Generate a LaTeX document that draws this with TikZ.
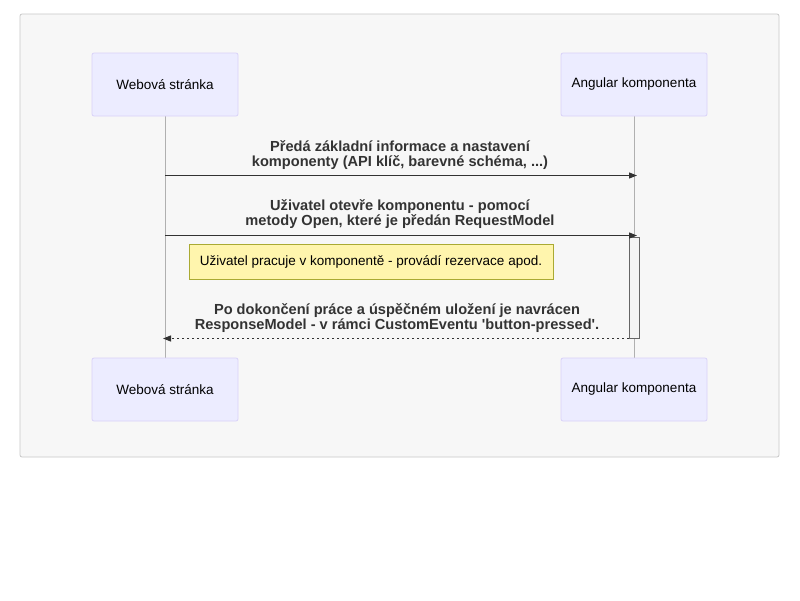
\documentclass[tikz,border=0pt]{standalone}
\usepackage{fontspec}
\setmainfont{Liberation Sans}[Ligatures=TeXOff]
\usetikzlibrary{arrows.meta}
\definecolor{bgfill}{HTML}{F7F7F7}
\definecolor{bgline}{HTML}{C8C8C8}
\definecolor{actfill}{HTML}{ECECFF}
\definecolor{actline}{HTML}{D9D2F8}
\definecolor{lifeline}{HTML}{B0B0B0}
\definecolor{msgline}{HTML}{333333}
\definecolor{notefill}{HTML}{FFF5AD}
\definecolor{noteline}{HTML}{AAAA33}
\definecolor{activfill}{HTML}{F4F4F4}
\definecolor{activline}{HTML}{666666}
\tikzset{
  actor/.style={draw=actline, fill=actfill, rounded corners=2pt, minimum width=146pt, minimum height=63pt, inner sep=0pt, font=\fontsize{13.5}{15}\selectfont, text=black, line width=0.8pt},
  msgtext/.style={font=\fontsize{14.6}{15}\selectfont\bfseries, text=msgline, align=center, inner sep=0pt},
  msg/.style={draw=msgline, line width=1.3pt, -{Triangle[length=8pt,width=6pt]}},
  life/.style={draw=lifeline, line width=0.8pt},
  notebox/.style={draw=noteline, fill=notefill, minimum width=364pt, minimum height=35pt, inner sep=0pt, font=\fontsize{13.5}{15}\selectfont, text=black, line width=0.8pt}
}
\begin{document}
\begin{tikzpicture}[x=1pt,y=-1pt]
\useasboundingbox (0,0) rectangle (800,600);
\fill[white] (0,0) rectangle (800,600);
\draw[bgline, fill=bgfill, rounded corners=2pt, line width=0.8pt] (20,14) rectangle (779,457);
% lifelines
\coordinate (lt) at (165,116);
\coordinate (lb) at (165,358);
\coordinate (rt) at (634,116);
\coordinate (rb) at (634,358);
\draw[life] (lt) -- (lb);
\draw[life] (rt) -- (rb);
% actors
\node[actor] (wt) at (165,84.5) {Webová stránka};
\node[actor] (at) at (634,84.5) {Angular komponenta};
\node[actor] (wb) at (165,389.5) {Webová stránka};
\node[actor] (ab) at (634,389.5) {Angular komponenta};
% activation
\node[draw=activline, fill=activfill, minimum width=10pt, minimum height=101pt, inner sep=0pt, line width=0.8pt] (act) at (634,287.5) {};
% message 1
\coordinate (m1a) at (165,175.5);
\coordinate (m1b) at (637,175.5);
\draw[msg] (m1a) -- (m1b);
\node[msgtext] (t1) at (400,155) {Předá základní informace a nastavení\\komponenty (API klíč, barevné schéma, ...)};
% message 2
\coordinate (m2a) at (165,235.5);
\coordinate (m2b) at (637,235.5);
\draw[msg] (m2a) -- (m2b);
\node[msgtext] (t2) at (400,214) {Uživatel otevře komponentu - pomocí\\metody Open, které je předán RequestModel};
% note
\node[notebox] (note) at (371,261.5) {Uživatel pracuje v komponentě - provádí rezervace apod.};
% message 3
\coordinate (m3a) at (629,338.5);
\coordinate (m3b) at (163,338.5);
\draw[msg, dash pattern=on 2.5pt off 2.5pt] (m3a) -- (m3b);
\node[msgtext] (t3) at (397,318) {Po dokončení práce a úspěčném uložení je navrácen\\ResponseModel - v rámci CustomEventu 'button-pressed'.};
\end{tikzpicture}
\end{document}
